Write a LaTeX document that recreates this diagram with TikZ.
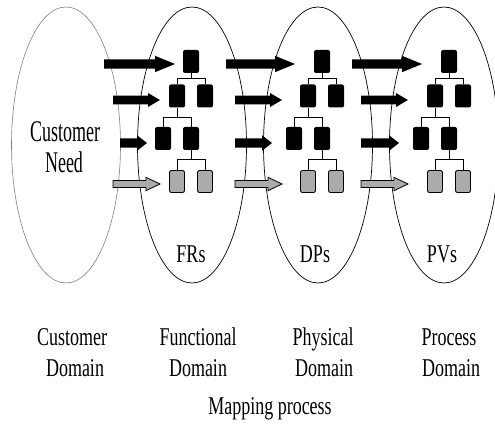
\documentclass[tikz,border=0pt]{standalone}
\usepackage{fontspec}
\setmainfont{Liberation Serif}
\usetikzlibrary{shapes.geometric}
\newcommand\mylbl[1]{\scalebox{0.9}[1.28]{\fontsize{20pt}{24pt}\selectfont #1}}
\newcommand\biglbl[1]{\scalebox{0.9}[1.5]{\fontsize{20pt}{24pt}\selectfont #1}}
% style, tail x, tip x, y, shaft half, head half, head length
\newcommand\fatarrow[7]{%
  \path[#1] (#2,#4-#5) -- (#3-#7,#4-#5) -- (#3-#7,#4-#6) -- (#3,#4)
    -- (#3-#7,#4+#6) -- (#3-#7,#4+#5) -- (#2,#4+#5) -- cycle;}
\tikzset{
  domainell/.style={draw=black, line width=0.7pt, ellipse, minimum width=109pt, minimum height=276pt, inner sep=0pt},
  custell/.style={domainell, draw=black!50, line width=0.6pt},
  fbox/.style={rectangle, rounded corners=2pt, fill=black, minimum width=16pt, minimum height=23pt, inner sep=0pt},
  gbox/.style={fbox, fill=black!33, draw=black, line width=0.9pt, minimum width=15pt, minimum height=22pt},
  tline/.style={line width=0.8pt},
  blackarrow/.style={fill=black},
  grayarrow/.style={fill=black!33, draw=black, line width=0.8pt, line join=miter},
  lbl/.style={inner sep=0pt, anchor=base}
}
\begin{document}
\begin{tikzpicture}[x=1pt,y=-1pt]
\useasboundingbox (0,0) rectangle (495,427);
% domains
\node[custell] (E1) at (66,145) {};
\node[domainell] (E2) at (192,145) {};
\node[domainell] (E3) at (318,145) {};
\node[domainell] (E4) at (444,145) {};
% hierarchies
\foreach \T/\p in {191/F,322/D,449/P}{
  \node[fbox] (\p1) at (\T,61.5) {};
  \node[fbox] (\p2a) at (\T-14,96) {};
  \node[fbox] (\p2b) at (\T+14,96) {};
  \node[fbox] (\p3a) at (\T-28,138.5) {};
  \node[fbox] (\p3b) at (\T,138.5) {};
  \node[gbox] (\p4a) at (\T-14,181.5) {};
  \node[gbox] (\p4b) at (\T+14,181.5) {};
  \draw[tline] (\p1.south) -- ++(0,5) coordinate (\p-b1) -| (\p2a.north);
  \draw[tline] (\p-b1) -| (\p2b.north);
  \draw[tline] (\p2a.south) -- ++(0,9.5) coordinate (\p-b2) -| (\p3a.north);
  \draw[tline] (\p-b2) -| (\p3b.north);
  \draw[tline] (\p3b.south) -- ++(0,9) coordinate (\p-b3) -| (\p4a.north);
  \draw[tline] (\p-b3) -| (\p4b.north);
}
% mapping arrows
\fatarrow{blackarrow}{104}{175}{64}{4.6}{8.2}{20}
\fatarrow{blackarrow}{113}{160}{100}{4.4}{7}{12}
\fatarrow{blackarrow}{120}{147}{143}{4.7}{7.8}{10}
\fatarrow{grayarrow}{113}{160}{184}{3.5}{6.7}{14}
\fatarrow{blackarrow}{226}{295}{64}{4.6}{8.2}{20}
\fatarrow{blackarrow}{235}{282}{100}{4.4}{7}{12}
\fatarrow{blackarrow}{235}{272}{143}{4.7}{7.8}{10}
\fatarrow{grayarrow}{235}{282}{184}{3.5}{6.7}{14}
\fatarrow{blackarrow}{352}{422}{64}{4.6}{8.2}{20}
\fatarrow{blackarrow}{361}{408}{100}{4.4}{7}{12}
\fatarrow{blackarrow}{361}{399}{143}{4.7}{7.8}{10}
\fatarrow{grayarrow}{361}{408}{184}{3.5}{6.7}{14}
% labels
\node[lbl] (cn1) at (65,142) {\biglbl{Customer}};
\node[lbl] (cn2) at (64,173) {\biglbl{Need}};
\node[lbl] (frs) at (191,263) {\mylbl{FRs}};
\node[lbl] (dps) at (315,263) {\mylbl{DPs}};
\node[lbl] (pvs) at (442,263) {\mylbl{PVs}};
\node[lbl] (l1a) at (72,345) {\mylbl{Customer}};
\node[lbl] (l1b) at (75,376) {\mylbl{Domain}};
\node[lbl] (l2a) at (198,345) {\mylbl{Functional}};
\node[lbl] (l2b) at (198,376) {\mylbl{Domain}};
\node[lbl] (l3a) at (323,345) {\mylbl{Physical}};
\node[lbl] (l3b) at (324,376) {\mylbl{Domain}};
\node[lbl] (l4a) at (449,345) {\mylbl{Process}};
\node[lbl] (l4b) at (451,376) {\mylbl{Domain}};
\node[lbl] (mp) at (270,414) {\mylbl{Mapping process}};
\end{tikzpicture}
\end{document}
